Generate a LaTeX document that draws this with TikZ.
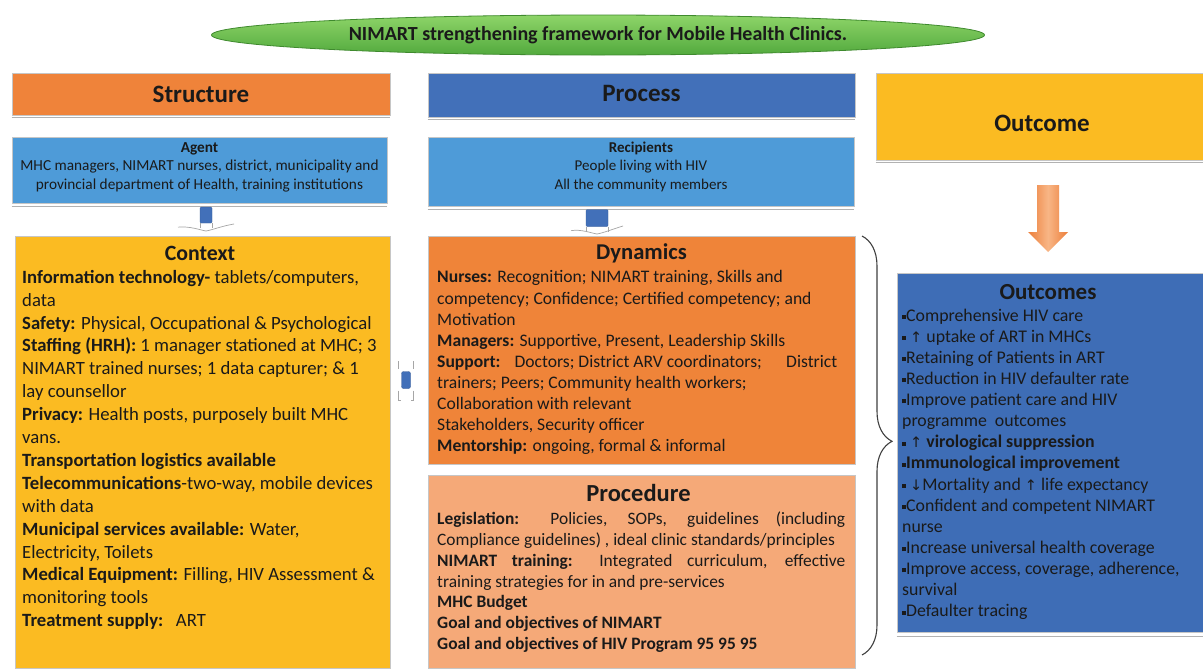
\documentclass[tikz,border=0pt]{standalone}
\usepackage{fontspec}
\setmainfont{Carlito}
\newfontfamily\arrowfont{DejaVu Sans}
\usetikzlibrary{shapes.geometric,decorations.pathreplacing}
\definecolor{cStruct}{HTML}{EF833A}
\definecolor{cProc}{HTML}{4270B9}
\definecolor{cLight}{HTML}{4E9BD8}
\definecolor{cYellow}{HTML}{FBBB22}
\definecolor{cDyn}{HTML}{EF8439}
\definecolor{cPcd}{HTML}{F5A978}
\definecolor{cOut}{HTML}{3E6DB6}
\definecolor{cGreenT}{HTML}{8ED468}
\definecolor{cGreenB}{HTML}{52AA3E}
\definecolor{cGreenD}{HTML}{3F8A2E}
\definecolor{cArrE}{HTML}{EC7E3A}
\definecolor{cArrM}{HTML}{F8B686}
\definecolor{cTxt}{HTML}{1A1A1A}
\newcommand\sqbul{\raisebox{2.2pt}{\rule{4pt}{4pt}}}
\newcommand\upa{{\arrowfont\fontsize{14.5}{14.5}\selectfont ↑}}
\newcommand\dna{{\arrowfont\fontsize{14.5}{14.5}\selectfont ↓}}
\tikzset{
  box/.style={draw=gray!45, line width=0.8pt, inner sep=0pt, rectangle},
  hdrtext/.style={font=\fontsize{25}{28}\selectfont\bfseries, text=cTxt, inner sep=0pt},
  subtitle/.style={font=\fontsize{#1}{26}\selectfont\bfseries, text=cTxt, inner sep=0pt},
  body/.style={anchor=north west, align=left, inner sep=0pt, text=cTxt},
  tinyarrow/.style={fill=cProc, draw=cProc!80!black, line width=0.3pt, inner sep=0pt, rounded corners=1pt},
  chev/.style={draw=gray!70, line width=0.7pt},
}
\begin{document}
\begin{tikzpicture}[x=1pt,y=-1pt]
\useasboundingbox (0,0) rectangle (1203,670);
\fill[white] (0,0) rectangle (1203,670);

% title ellipse
\node[ellipse, top color=cGreenT, bottom color=cGreenB, draw=cGreenD, line width=0.8pt,
      minimum width=773pt, minimum height=40pt, inner sep=0pt,
      font=\fontsize{20}{22}\selectfont\bfseries, text=cTxt] (title) at (598,35)
      {NIMART strengthening framework for Mobile Health Clinics.};

% headers
\node[box, fill=cStruct, minimum width=378pt, minimum height=42pt] (structure) at (201,94) {};
\node[hdrtext] (structuretxt) at (201,94) {Structure};
\draw[gray!60, line width=1pt] (structure.south west) ++(0,2) -- ([yshift=-2pt]structure.south east);
\node[box, fill=cProc, minimum width=427pt, minimum height=44pt] (process) at (641.5,95) {};
\node[hdrtext] (processtxt) at (641.5,93) {Process};
\draw[gray!60, line width=1pt] (process.south west) ++(0,2) -- ([yshift=-2pt]process.south east);
\node[box, fill=cYellow, minimum width=327pt, minimum height=87pt] (outcome) at (1039.5,116.5) {};
\node[hdrtext] (outcometxt) at (1042,123) {Outcome};
\draw[gray!60, line width=1pt] (outcome.south west) ++(0,2) -- ([yshift=-2pt]outcome.south east);

% agent / recipients
\node[box, fill=cLight, minimum width=375pt, minimum height=66pt] (agent) at (199.5,170) {};
\node[inner sep=0pt, anchor=north, align=center, text=cTxt, font=\fontsize{15.3}{18.5}\selectfont] (agenttxt) at (199.5,139)
  {\strut\textbf{Agent}\\ MHC managers, NIMART nurses, district, municipality and\\ provincial department of Health, training institutions};
\draw[gray!60, line width=1pt] (agent.south west) ++(0,3) -- ([yshift=-3pt]agent.south east);
\node[box, fill=cLight, minimum width=426pt, minimum height=69pt] (recip) at (641,171.5) {};
\node[inner sep=0pt, anchor=north, align=center, text=cTxt, font=\fontsize{15}{18.5}\selectfont] (reciptxt) at (641,139)
  {\strut\textbf{Recipients}\\ People living with HIV\\ All the community members};
\draw[gray!60, line width=1pt] (recip.south west) ++(0,3) -- ([yshift=-3pt]recip.south east);

% context
\node[box, fill=cYellow, minimum width=375pt, minimum height=432pt] (context) at (202.5,452) {};
\node[subtitle=21.8] (contexttitle) at (200,253) {Context};
\node[body, font=\fontsize{18.7}{22.9}\selectfont] (contexttxt) at (22,267)
  {\strut\textbf{Information technology-} tablets/computers,\\
   data\\
   \textbf{Safety:} Physical, Occupational \& Psychological\\
   \textbf{Staffing (HRH):} 1 manager stationed at MHC; 3\\
   NIMART trained nurses; 1 data capturer; \& 1\\
   lay counsellor\\
   \textbf{Privacy:} Health posts, purposely built MHC\\
   vans.\\
   \textbf{Transportation logistics available}\\
   \textbf{Telecommunications}-two-way, mobile devices\\
   with data\\
   \textbf{Municipal services available:} Water,\\
   Electricity, Toilets\\
   \textbf{Medical Equipment:} Filling, HIV Assessment \&\\
   monitoring tools\\
   \textbf{Treatment supply:}\ \ \ ART};

% dynamics
\node[box, fill=cDyn, minimum width=427pt, minimum height=228pt] (dynamics) at (641.5,350) {};
\node[subtitle=22.6] (dyntitle) at (641.5,253) {Dynamics};
\node[body, font=\fontsize{17.6}{21.1}\selectfont] (dyntxt) at (437,268)
  {\strut\textbf{Nurses:} Recognition; NIMART training, Skills and\\
   competency; Confidence; Certified competency; and\\
   Motivation\\
   \textbf{Managers:} Supportive, Present, Leadership Skills\\
   \makebox[400pt][l]{\textbf{Support:}\hspace{14pt}Doctors; District ARV coordinators;\hfill District}\\
   trainers; Peers; Community health workers;\\
   Collaboration with relevant\\
   Stakeholders, Security officer\\
   \textbf{Mentorship:} ongoing, formal \& informal};

% procedure
\node[box, fill=cPcd, minimum width=427pt, minimum height=193pt] (procedure) at (641.5,571.5) {};
\node[subtitle=24.5] (proctitle) at (638.5,493) {Procedure};
\node[body, font=\fontsize{17.4}{20.8}\selectfont] (proctxt) at (437,510)
  {\strut\makebox[408pt][s]{\textbf{Legislation:} Policies, SOPs, guidelines (including}\\
   Compliance guidelines) , ideal clinic standards/principles\\
   \makebox[408pt][s]{\textbf{NIMART training:} Integrated curriculum, effective}\\
   training strategies for in and pre-services\\
   \textbf{MHC Budget}\\
   \textbf{Goal and objectives of NIMART}\\
   \textbf{Goal and objectives of HIV Program 95 95 95}};

% outcomes
\node[box, fill=cOut, minimum width=306pt, minimum height=359pt] (outcomes) at (1050,452.5) {};
\draw[gray!60, line width=1pt] (outcomes.south west) ++(0,4) -- ([yshift=-4pt]outcomes.south east);
\node[subtitle=23] (outtitle) at (1048,292) {Outcomes};
\node[body, font=\fontsize{17.8}{21.14}\selectfont] (outtxt) at (902,306)
  {\strut\sqbul Comprehensive HIV care\\
   \sqbul\ \upa\ uptake of ART in MHCs\\
   \sqbul Retaining of Patients in ART\\
   \sqbul Reduction in HIV defaulter rate\\
   \sqbul Improve patient care and HIV\\
   programme\ \ outcomes\\
   \sqbul\ \upa\ \textbf{virological suppression}\\
   \sqbul\textbf{Immunological improvement}\\
   \sqbul\ \dna Mortality and \upa\ life expectancy\\
   \sqbul Confident and competent NIMART\\
   nurse\\
   \sqbul Increase universal health coverage\\
   \sqbul Improve access, coverage, adherence,\\
   survival\\
   \sqbul Defaulter tracing};

% small blue arrows
\node[tinyarrow, minimum width=12pt, minimum height=16pt] (arrA) at (206,215) {};
\draw[chev] (arrA.south) ++(-28,4) .. controls (190,226) and (200,230) .. (206,231)
            .. controls (212,230) and (222,226) .. (234,224);
\draw[chev] (arrA.south west) -- ++(0,5);
\draw[chev] (arrA.south east) -- ++(0,5);
\node[tinyarrow, minimum width=22pt, minimum height=17pt] (arrB) at (597,218) {};
\draw[chev] (arrB.south) ++(-26,4) .. controls (581,229) and (591,233) .. (597,234)
            .. controls (603,233) and (613,229) .. (623,226);
\draw[chev] (arrB.south west) -- ++(0,5);
\draw[chev] (arrB.south east) -- ++(0,5);
\node[tinyarrow, minimum width=9pt, minimum height=17pt, rounded corners=2pt] (arrC) at (406,380) {};
\draw[chev, line width=0.5pt] (arrC.north west) ++(-3,-10) -- ++(0,8);
\draw[chev, line width=0.5pt] (arrC.north east) ++(3,-10) -- ++(0,8);
\draw[chev, line width=0.5pt] (arrC.south west) ++(-3,2) -- ++(0,10) -- ++(3,0);
\draw[chev, line width=0.5pt] (arrC.south east) ++(3,2) -- ++(0,10) -- ++(-3,0);

% orange arrow outcome -> outcomes
\coordinate (oa) at (1048,185);
\shade[left color=cArrE, right color=cArrE, middle color=cArrM]
  (oa) ++(-11,0) -- ++(22,0) -- ++(0,47) -- ++(9,0) -- ++(-20,20) -- ++(-20,-20) -- ++(9,0) -- cycle;

% brace
\coordinate (bracetop) at (862,236);
\coordinate (bracebot) at (862,655);
\draw[decorate, decoration={brace, amplitude=30pt, aspect=0.49}, line width=1.1pt, black!75]
  (bracetop) -- (bracebot);
\end{tikzpicture}
\end{document}
